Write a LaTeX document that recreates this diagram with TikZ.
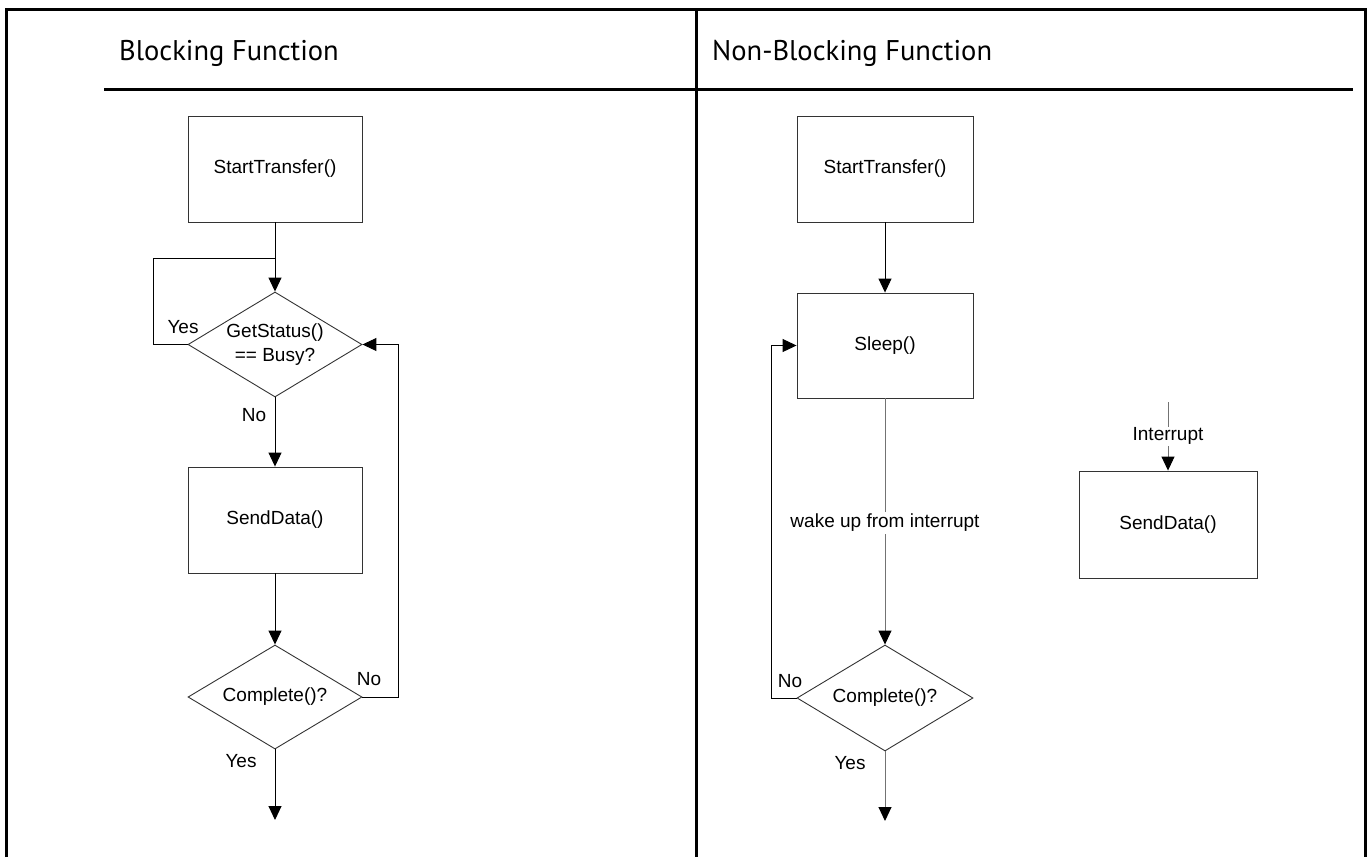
\documentclass[tikz,border=0pt]{standalone}
\usepackage{fontspec}
\setmainfont{Liberation Sans}
\newfontfamily\headfont{PT Sans}
\usetikzlibrary{shapes.geometric,arrows.meta}

\tikzset{
  frameline/.style={line width=3pt, line cap=butt},
  procbox/.style={draw=black!80, line width=0.9pt, rectangle, inner sep=0pt,
                  font=\fontsize{19}{23}\selectfont},
  decision/.style={draw=black!80, line width=0.9pt, diamond, inner sep=0pt},
  flow/.style={line width=1pt, -{Triangle[length=14pt,width=13pt,color=black]}},
  plain/.style={line width=1pt},
  grayflow/.style={flow, draw=black!55},
  lbl/.style={font=\fontsize{19}{23}\selectfont, inner sep=1pt},
  headtxt/.style={font=\headfont\fontsize{28.5}{34}\selectfont, anchor=base west, inner sep=0pt}
}

\begin{document}
\begin{tikzpicture}[x=1pt,y=-1pt]
\useasboundingbox (0,0) rectangle (1368,857);

% table frame and header rule
\draw[frameline] (6,857) -- (6,9) -- (1365,9) -- (1365,857);
\draw[frameline] (696,9) -- (696,857);
\draw[frameline] (104,89) -- (1353,89);

\node[headtxt] (h1) at (119,60) {Blocking Function};
\node[headtxt] (h2) at (712,60) {Non-Blocking Function};

% ---------------- blocking flow ----------------
\node[procbox, minimum width=174pt, minimum height=106pt] (st1) at (275,169) {StartTransfer()};
\node[decision, minimum width=174pt, minimum height=105pt] (gs) at (275,344.5) {};
\node[lbl, align=center] at (gs) {GetStatus()\\[1pt]== Busy?};
\node[procbox, minimum width=174pt, minimum height=106pt] (sd1) at (275,520) {SendData()};
\node[decision, minimum width=174pt, minimum height=104pt] (cp1) at (275,697) {};
\node[lbl] at (cp1) {Complete()?};
\coordinate (end1) at (275,820);
\coordinate (loopA) at (153,258);
\coordinate (joinA) at (275,258);
\coordinate (loopB) at (398,697);

\draw[flow] (st1.south) -- (gs.north);
\draw[plain] (gs.west) -| (loopA) -- (joinA);
\draw[flow] (gs.south) -- (sd1.north);
\draw[flow] (sd1.south) -- (cp1.north);
\draw[flow] (cp1.east) -- (loopB) |- (gs.east);
\draw[flow] (cp1.south) -- (end1);

\node[lbl] at (183,327) {Yes};
\node[lbl] at (254,415) {No};
\node[lbl] at (369,679) {No};
\node[lbl] at (241,761) {Yes};

% ---------------- non-blocking flow ----------------
\node[procbox, minimum width=176pt, minimum height=106pt] (st2) at (885,169) {StartTransfer()};
\node[procbox, minimum width=176pt, minimum height=105pt] (sl) at (885,345.5) {Sleep()};
\node[decision, minimum width=176pt, minimum height=106pt] (cp2) at (885,698) {};
\node[lbl] at (cp2) {Complete()?};
\coordinate (end2) at (885,821);
\coordinate (loopC) at (771,698);

\draw[flow] (st2.south) -- (sl.north);
\draw[grayflow] (sl.south) -- (cp2.north)
  node[lbl, fill=white, text=black, pos=0.505, inner sep=2pt] {wake up from interrupt};
\draw[grayflow] (cp2.south) -- (end2);
\draw[flow] (cp2.west) -- (loopC) |- (sl.west);

\node[lbl] at (790,681) {No};
\node[lbl] at (850,763) {Yes};

% interrupt handler
\node[procbox, minimum width=178pt, minimum height=107pt] (sd2) at (1168,524.5) {SendData()};
\coordinate (irq) at (1168,402);
\draw[grayflow] (irq) -- (sd2.north)
  node[lbl, fill=white, text=black, pos=0.5, inner sep=1pt] {Interrupt};

\end{tikzpicture}
\end{document}
